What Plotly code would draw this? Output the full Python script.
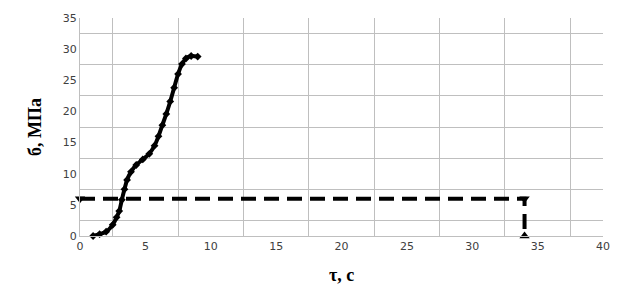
import plotly.graph_objects as go

# Main curve data (time, stress)
tau = [1.0, 1.5, 2.0, 2.5, 2.8, 3.0, 3.2, 3.4, 3.6, 3.9, 4.3, 4.8, 5.3, 5.7, 6.0, 6.3,
       6.6, 6.9, 7.2, 7.5, 7.8, 8.1, 8.5, 9.0]
sigma = [0.0, 0.3, 0.7, 1.8, 3.0, 4.0, 5.8, 7.5, 9.0, 10.3, 11.4, 12.3, 13.2, 14.5, 16.0,
         17.8, 19.6, 21.6, 23.8, 26.0, 27.6, 28.5, 28.9, 28.8]

# Dashed guide line
guide_x = [0, 34, 34]
guide_y = [6, 6, 0]
guide_symbols = ["triangle-down", "triangle-down", "triangle-up"]

x_ticks = [0, 5, 10, 15, 20, 25, 30, 35, 40]
y_ticks = [0, 5, 10, 15, 20, 25, 30, 35]

fig = go.Figure()
fig.add_trace(go.Scatter(
    x=tau, y=sigma, mode="lines+markers", line=dict(color="black", width=4, shape="spline"),
    marker=dict(symbol="diamond", size=6, color="black"), showlegend=False, cliponaxis=False))
fig.add_trace(go.Scatter(
    x=guide_x, y=guide_y, mode="lines+markers",
    line=dict(color="black", width=4, dash="15px,8px"),
    marker=dict(symbol=guide_symbols, size=9, color="black"), showlegend=False, cliponaxis=False))

axis_common = dict(
    showgrid=False, zeroline=False, showline=True, linecolor="#bfbfbf", linewidth=1,
    ticks="", tickfont=dict(family="DejaVu Sans", size=11, color="#404040"),
)
fig.update_xaxes(range=[0, 40], tickvals=x_ticks, ticktext=[str(v) for v in x_ticks],
                 minor=dict(tick0=2.5, dtick=5, showgrid=True, gridcolor="#bfbfbf", gridwidth=1),
                 **axis_common)
fig.update_yaxes(range=[0, 35], tickvals=y_ticks, ticktext=[str(v) for v in y_ticks],
                 minor=dict(tick0=2.5, dtick=5, showgrid=True, gridcolor="#bfbfbf", gridwidth=1),
                 **axis_common)

fig.add_annotation(text="<b>б, МПа</b>", xref="paper", yref="paper", x=0, y=0.5,
                   xanchor="center", yanchor="middle", xshift=-45, textangle=-90, showarrow=False,
                   font=dict(family="Liberation Serif", size=18, color="black"))
fig.add_annotation(text="<b>τ, с</b>", xref="paper", yref="paper", x=0.5, y=0,
                   xanchor="center", yanchor="middle", yshift=-39, showarrow=False,
                   font=dict(family="Liberation Serif", size=18, color="black"))

fig.update_layout(width=624, height=307, margin=dict(l=80, r=21, t=12, b=71),
                  plot_bgcolor="white", paper_bgcolor="white")
fig.write_html("out.html")
